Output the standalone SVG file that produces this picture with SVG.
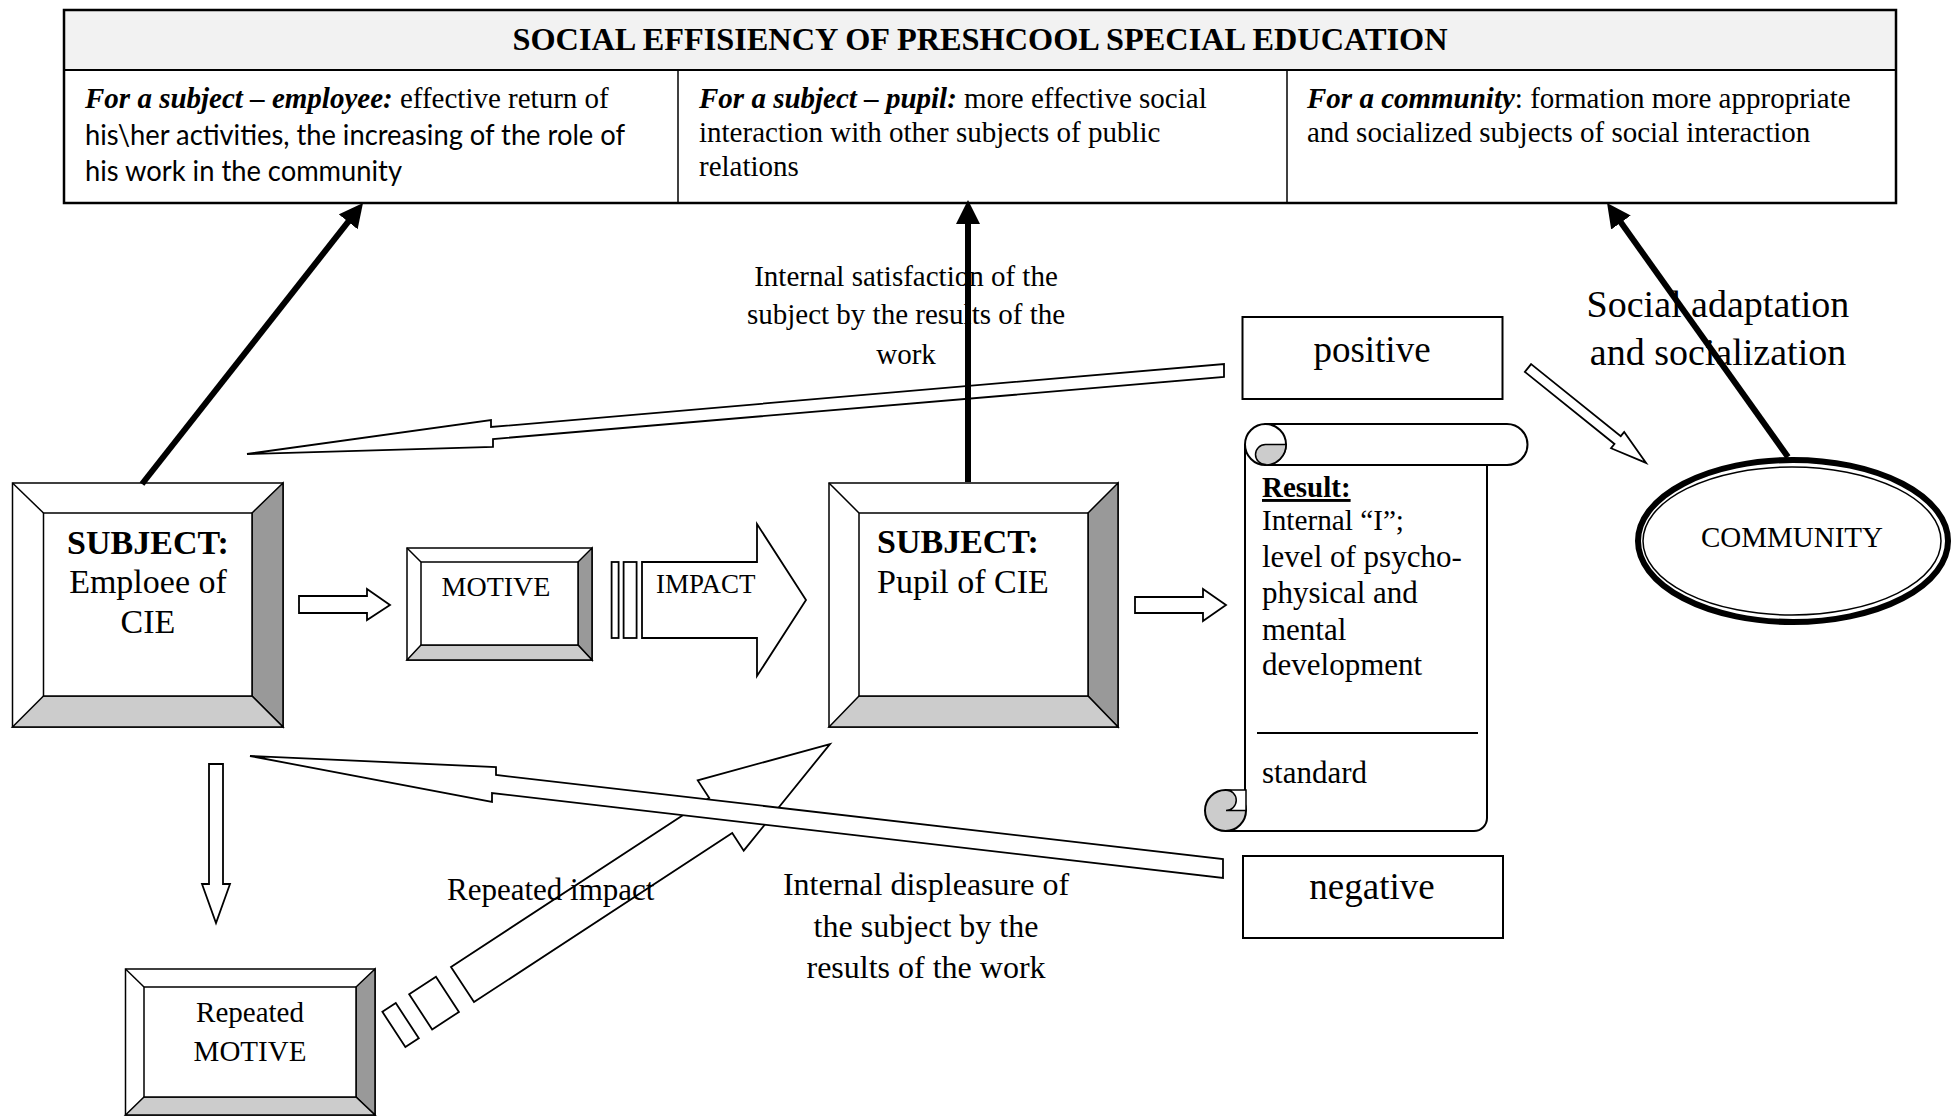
<svg xmlns="http://www.w3.org/2000/svg" width="1957" height="1116" viewBox="0 0 1957 1116">
<style>
text{font-family:"Liberation Serif","Times New Roman",serif;fill:#000}
.sans{font-family:Lato,"Liberation Sans",sans-serif}
.bi{font-weight:bold;font-style:italic}
.b{font-weight:bold}
.ln{fill:none;stroke:#000;stroke-width:2}
.box{fill:#fff;stroke:#000;stroke-width:2}
.hol{fill:#fff;stroke:#000;stroke-width:1.8;stroke-linejoin:miter}
.thick{fill:none;stroke:#000;stroke-width:6;marker-end:url(#ah)}
.bw{fill:#fff;stroke:#000;stroke-width:1.5}
.bd{fill:#999;stroke:#000;stroke-width:1.5}
.bl{fill:#ccc;stroke:#000;stroke-width:1.5}
</style>
<defs>
<marker id="ah" markerUnits="userSpaceOnUse" markerWidth="24" markerHeight="24" refX="12" refY="12" orient="auto">
<path d="M0,0 L24,12 L0,24 Z" fill="#000"/>
</marker>
</defs>
<rect width="1957" height="1116" fill="#fff"/>

<g id="table">
<rect x="64" y="10" width="1832" height="60" fill="#f2f2f2"/>
<rect x="64" y="10" width="1832" height="193" fill="none" stroke="#000" stroke-width="2.5"/>
<line x1="64" y1="70" x2="1896" y2="70" stroke="#000" stroke-width="2"/>
<line x1="678" y1="70" x2="678" y2="203" stroke="#000" stroke-width="1.5"/>
<line x1="1287" y1="70" x2="1287" y2="203" stroke="#000" stroke-width="1.5"/>
<text x="980" y="50" text-anchor="middle" class="b" font-size="32" textLength="935" lengthAdjust="spacingAndGlyphs">SOCIAL EFFISIENCY OF PRESHCOOL SPECIAL EDUCATION</text>
<text x="85" y="108" font-size="29"><tspan class="bi">For a subject – employee:</tspan> effective return of</text>
<text x="85" y="145" font-size="28" class="sans" textLength="540" lengthAdjust="spacingAndGlyphs">his\her activities, the increasing of the role of</text>
<text x="85" y="181" font-size="28" class="sans" textLength="317" lengthAdjust="spacingAndGlyphs">his work in the community</text>
<text x="699" y="108" font-size="29"><tspan class="bi">For a subject – pupil:</tspan> more effective social</text>
<text x="699" y="142" font-size="29">interaction with other subjects of public</text>
<text x="699" y="176" font-size="29">relations</text>
<text x="1307" y="108" font-size="29"><tspan class="bi">For a community</tspan>: formation more appropriate</text>
<text x="1307" y="142" font-size="29">and socialized subjects of social interaction</text>
</g>

<g id="subject-employee">
<rect x="12.5" y="483" width="270.5" height="244" class="bw"/>
<polygon points="283,483 283,727 252,696 252,513" class="bd"/>
<polygon points="12.5,727 283,727 252,696 43.5,696" class="bl"/>
<line x1="12.5" y1="483" x2="43.5" y2="513" stroke="#000" stroke-width="1.5"/>
<rect x="43.5" y="513" width="208.5" height="183" class="bw"/>
<text x="148" y="554" text-anchor="middle" font-size="34" class="b">SUBJECT:</text>
<text x="148" y="593" text-anchor="middle" font-size="34">Emploee of</text>
<text x="148" y="633" text-anchor="middle" font-size="34">CIE</text>
</g>

<g id="motive">
<rect x="407" y="548" width="185" height="112" class="bw"/>
<polygon points="592,548 592,660 578,645 578,562" class="bd"/>
<polygon points="407,660 592,660 578,645 421,645" class="bl"/>
<line x1="407" y1="548" x2="421" y2="562" stroke="#000" stroke-width="1.5"/>
<rect x="421" y="562" width="157" height="83" class="bw"/>
<text x="496" y="596" text-anchor="middle" font-size="28">MOTIVE</text>
</g>

<g id="subject-pupil">
<rect x="829" y="483" width="289" height="244" class="bw"/>
<polygon points="1118,483 1118,727 1088,696 1088,513" class="bd"/>
<polygon points="829,727 1118,727 1088,696 859,696" class="bl"/>
<line x1="829" y1="483" x2="859" y2="513" stroke="#000" stroke-width="1.5"/>
<rect x="859" y="513" width="229" height="183" class="bw"/>
<text x="877" y="553" font-size="34" class="b">SUBJECT:</text>
<text x="877" y="593" font-size="34">Pupil of CIE</text>
</g>

<g id="repeated-motive">
<rect x="125.5" y="969" width="249.5" height="146" class="bw"/>
<polygon points="375,969 375,1115 356,1097 356,987" class="bd"/>
<polygon points="125.5,1115 375,1115 356,1097 144,1097" class="bl"/>
<line x1="125.5" y1="969" x2="144" y2="987" stroke="#000" stroke-width="1.5"/>
<rect x="144" y="987" width="212" height="110" class="bw"/>
<text x="250" y="1022" text-anchor="middle" font-size="29">Repeated</text>
<text x="250" y="1061" text-anchor="middle" font-size="29">MOTIVE</text>
</g>

<g id="positive">
<rect x="1242.5" y="317" width="260" height="82" class="box"/>
<text x="1372" y="362" text-anchor="middle" font-size="37">positive</text>
</g>

<g id="negative">
<rect x="1243" y="856" width="260" height="82" class="box"/>
<text x="1372" y="899" text-anchor="middle" font-size="37">negative</text>
</g>

<g id="result">
<path d="M1245,444.5 V810.5 H1245 M1245,444.5" class="ln"/>
<path d="M1245,444.5 L1245,810.5 L1225.5,831 L1474,831 A13,13 0 0 0 1487,818 L1487,465 L1266,465 L1245,444.5 Z" fill="#fff" stroke="none"/>
<line x1="1245" y1="444.5" x2="1245" y2="810.5" stroke="#000" stroke-width="2"/>
<path d="M1225.5,831 H1474 A13,13 0 0 0 1487,818 V465" class="ln"/>
<path d="M1265.5,424 H1507 A20.5,20.5 0 0 1 1507,465 H1265.5 Z" fill="#fff" stroke="#000" stroke-width="2"/>
<circle cx="1265.5" cy="444.5" r="20.5" fill="#fff" stroke="#000" stroke-width="2"/>
<path d="M1286,444.5 L1265.5,444.5 A10,10 0 0 0 1265.5,464.5 L1265.5,465 A20.5,20.5 0 0 0 1286,444.5 Z" fill="#ccc" stroke="#000" stroke-width="1.5"/>
<circle cx="1225.5" cy="810.5" r="20.5" fill="#ccc" stroke="#000" stroke-width="2"/>
<path d="M1246,790 L1226,790 A10.25,10.25 0 0 1 1226,810.5 L1246,810.5 Z" fill="#fff" stroke="#000" stroke-width="1.5"/>
<text x="1262" y="497" font-size="29" class="b" text-decoration="underline">Result:</text>
<text x="1262" y="530" font-size="29" textLength="142" lengthAdjust="spacingAndGlyphs">Internal “I”;</text>
<text x="1262" y="567" font-size="31">level of psycho-</text>
<text x="1262" y="603" font-size="31">physical and</text>
<text x="1262" y="640" font-size="31">mental</text>
<text x="1262" y="675" font-size="31">development</text>
<line x1="1257" y1="733" x2="1478" y2="733" stroke="#000" stroke-width="2"/>
<text x="1262" y="783" font-size="31">standard</text>
</g>

<g id="community">
<ellipse cx="1793" cy="541" rx="155" ry="81" fill="#fff" stroke="#000" stroke-width="6"/>
<ellipse cx="1792" cy="541" rx="149" ry="74" fill="none" stroke="#000" stroke-width="1.5"/>
<text x="1792" y="547" text-anchor="middle" font-size="29">COMMUNITY</text>
</g>

<g id="labels">
<text x="906" y="286" text-anchor="middle" font-size="29">Internal satisfaction of the</text>
<text x="906" y="324" text-anchor="middle" font-size="29">subject by the results of the</text>
<text x="906" y="364" text-anchor="middle" font-size="29">work</text>
<text x="1718" y="317" text-anchor="middle" font-size="38">Social adaptation</text>
<text x="1718" y="365" text-anchor="middle" font-size="38">and socialization</text>
<text x="447" y="900" font-size="31">Repeated impact</text>
<text x="926" y="895" text-anchor="middle" font-size="32">Internal displeasure of</text>
<text x="926" y="937" text-anchor="middle" font-size="32">the subject by the</text>
<text x="926" y="978" text-anchor="middle" font-size="32">results of the work</text>
</g>

<g id="connectors">
<g transform="translate(462.5,984.5) rotate(-33.2)">
<path d="M0,-21 H308.6 V-42 L439.2,0 L308.6,42 V21 H0 Z" fill="none" stroke="#000" stroke-width="1.8"/>
<rect x="-50" y="-21" width="32" height="42" fill="#fff" stroke="#000" stroke-width="1.8"/>
<rect x="-82" y="-21" width="16" height="42" fill="#fff" stroke="#000" stroke-width="1.8"/>
</g>
<polygon points="250,756 496,767 496,775 1223,859 1223,878 492,793 492,802" class="hol"/>
<polygon points="247,454 491,420 491,427 1224,364 1224,377 493,439 493,447" class="hol"/>
<path d="M299,596 H367 V589 L390,605 L367,620 V613 H299 Z" class="hol"/>
<path d="M1135,597 H1203 V589 L1226,605 L1203,621 V613 H1135 Z" class="hol"/>
<path d="M209,764 H223 V884 H230 L216,923 L202,884 H209 Z" class="hol"/>
<g transform="translate(1528,368) rotate(38.8)">
<path d="M0,-5 H115 V-10.5 L151.5,0 L115,10.5 V5 H0 Z" class="hol"/>
</g>
<rect x="611.6" y="562" width="7" height="76" class="hol"/>
<rect x="623.6" y="562" width="13" height="76" class="hol"/>
<path d="M642,562 H757 V524 L806,600 L757,676 V638 H642 Z" class="hol"/>
<text x="656" y="593" font-size="27">IMPACT</text>
<line x1="142" y1="484" x2="355.6" y2="212.4" class="thick"/>
<line x1="968" y1="482" x2="968" y2="212" class="thick"/>
<line x1="1788" y1="457" x2="1614" y2="212.8" class="thick"/>
</g>
</svg>
